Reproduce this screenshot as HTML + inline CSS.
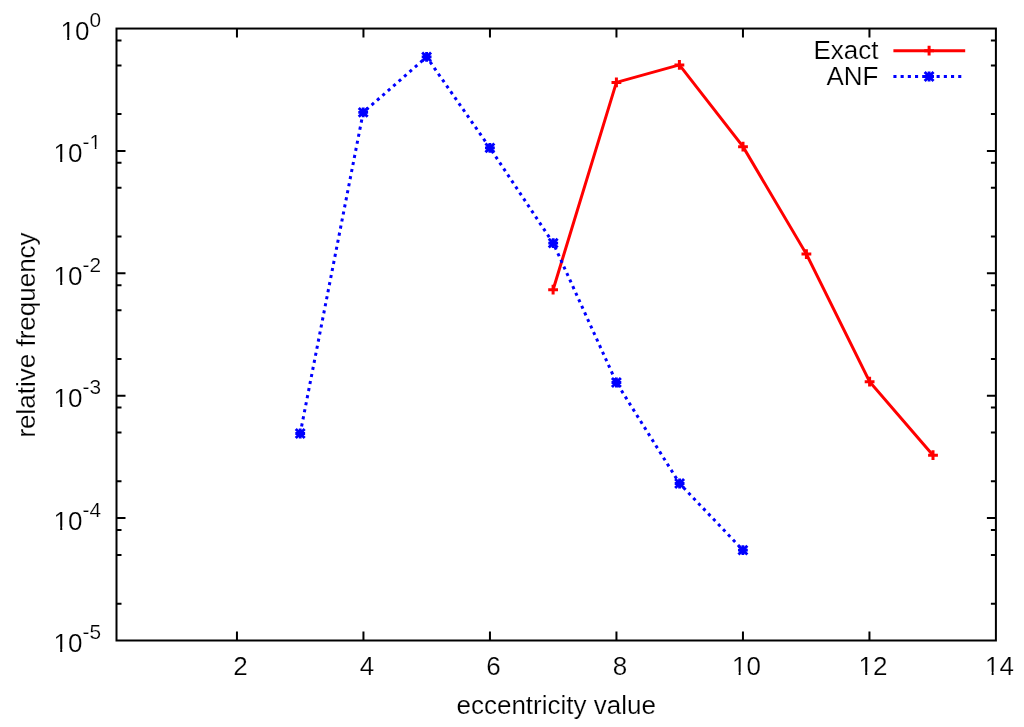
<!DOCTYPE html>
<html><head><meta charset="utf-8"><title>eccentricity distribution</title><style>html,body{margin:0;padding:0;background:#fff;overflow:hidden}svg{display:block}</style></head><body>
<svg width="1024" height="727" viewBox="0 0 1024 727">
<rect width="1024" height="727" fill="#fff"/>
<path d="M236.95 640.5V631.5M236.95 28.55V37.55M363.45 640.5V631.5M363.45 28.55V37.55M489.95 640.5V631.5M489.95 28.55V37.55M616.45 640.5V631.5M616.45 28.55V37.55M742.95 640.5V631.5M742.95 28.55V37.55M869.45 640.5V631.5M869.45 28.55V37.55M116.5 40.41H121.5M995.9 40.41H990.9M116.5 65.39H121.5M995.9 65.39H990.9M116.5 114.1H121.5M995.9 114.1H990.9M116.5 150.94H125.5M995.9 150.94H986.9M116.5 162.8H121.5M995.9 162.8H990.9M116.5 187.78H121.5M995.9 187.78H990.9M116.5 236.49H121.5M995.9 236.49H990.9M116.5 273.33H125.5M995.9 273.33H986.9M116.5 285.19H121.5M995.9 285.19H990.9M116.5 310.17H121.5M995.9 310.17H990.9M116.5 358.88H121.5M995.9 358.88H990.9M116.5 395.72H125.5M995.9 395.72H986.9M116.5 407.58H121.5M995.9 407.58H990.9M116.5 432.56H121.5M995.9 432.56H990.9M116.5 481.27H121.5M995.9 481.27H990.9M116.5 518.11H125.5M995.9 518.11H986.9M116.5 529.97H121.5M995.9 529.97H990.9M116.5 554.95H121.5M995.9 554.95H990.9M116.5 603.66H121.5M995.9 603.66H990.9" stroke="#000" stroke-width="2.0" fill="none"/>
<rect x="116.5" y="28.55" width="879.4" height="611.95" fill="none" stroke="#000" stroke-width="2.0"/>
<g font-family="'Liberation Sans', Arial, sans-serif" font-size="26" fill="#000" stroke="#fff" stroke-width="0.2">
<text x="240.55" y="674.7" text-anchor="middle">2</text>
<text x="367.05" y="674.7" text-anchor="middle">4</text>
<text x="493.55" y="674.7" text-anchor="middle">6</text>
<text x="620.05" y="674.7" text-anchor="middle">8</text>
<text x="746.55" y="674.7" text-anchor="middle">10</text>
<text x="873.05" y="674.7" text-anchor="middle">12</text>
<text x="999.55" y="674.7" text-anchor="middle">14</text>
<text x="101" y="39.95" text-anchor="end">10<tspan font-size="20.8" dy="-13.0">0</tspan></text>
<text x="101" y="162.34" text-anchor="end">10<tspan font-size="20.8" dy="-13.0">-1</tspan></text>
<text x="101" y="284.73" text-anchor="end">10<tspan font-size="20.8" dy="-13.0">-2</tspan></text>
<text x="101" y="407.12" text-anchor="end">10<tspan font-size="20.8" dy="-13.0">-3</tspan></text>
<text x="101" y="529.51" text-anchor="end">10<tspan font-size="20.8" dy="-13.0">-4</tspan></text>
<text x="101" y="651.9" text-anchor="end">10<tspan font-size="20.8" dy="-13.0">-5</tspan></text>
<text x="556.2" y="713.9" text-anchor="middle">eccentricity value</text>
<text transform="translate(35.1 335.0) rotate(-90)" text-anchor="middle">relative frequency</text>
<text x="878.5" y="58.8" text-anchor="end">Exact</text>
<text x="878.5" y="84.8" text-anchor="end">ANF</text>
</g>
<g fill="#fff"><rect x="733.07" y="671.76" width="5.58" height="4.14"/><rect x="740.61" y="671.76" width="5.67" height="4.14"/><rect x="859.57" y="671.76" width="5.64" height="4.14"/><rect x="867.25" y="671.76" width="5.53" height="4.14"/><rect x="986.07" y="671.76" width="5.58" height="4.14"/><rect x="993.61" y="671.76" width="5.67" height="4.14"/><rect x="61.49" y="37.01" width="5.72" height="4.14"/><rect x="69.25" y="37.01" width="5.45" height="4.14"/><rect x="54.57" y="159.4" width="5.65" height="4.14"/><rect x="62.26" y="159.4" width="5.52" height="4.14"/><rect x="90.02" y="146.79" width="4.79" height="3.75"/><rect x="96.41" y="146.79" width="4.57" height="3.75"/><rect x="54.57" y="281.79" width="5.65" height="4.14"/><rect x="62.26" y="281.79" width="5.52" height="4.14"/><rect x="54.57" y="404.18" width="5.65" height="4.14"/><rect x="62.26" y="404.18" width="5.52" height="4.14"/><rect x="54.57" y="526.57" width="5.65" height="4.14"/><rect x="62.26" y="526.57" width="5.52" height="4.14"/><rect x="54.57" y="648.96" width="5.65" height="4.14"/><rect x="62.26" y="648.96" width="5.52" height="4.14"/></g>
<polyline points="553.1,289.7 616.4,82.4 679.4,64.9 743,146.7 806.4,254.1 869.6,381.7 933,455.2" fill="none" stroke="#ff0000" stroke-width="3.0" stroke-linejoin="miter"/>
<path d="M893.4 50.65H965.2" stroke="#ff0000" stroke-width="3.0"/>
<path d="M548.2 289.7H558M553.1 284.8V294.6" stroke="#ff0000" stroke-width="3.0" fill="none"/>
<path d="M611.5 82.4H621.3M616.4 77.5V87.3" stroke="#ff0000" stroke-width="3.0" fill="none"/>
<path d="M674.5 64.9H684.3M679.4 60V69.8" stroke="#ff0000" stroke-width="3.0" fill="none"/>
<path d="M738.1 146.7H747.9M743 141.8V151.6" stroke="#ff0000" stroke-width="3.0" fill="none"/>
<path d="M801.5 254.1H811.3M806.4 249.2V259" stroke="#ff0000" stroke-width="3.0" fill="none"/>
<path d="M864.7 381.7H874.5M869.6 376.8V386.6" stroke="#ff0000" stroke-width="3.0" fill="none"/>
<path d="M928.1 455.2H937.9M933 450.3V460.1" stroke="#ff0000" stroke-width="3.0" fill="none"/>
<path d="M924.2 50.65H934M929.1 45.75V55.55" stroke="#ff0000" stroke-width="3.0" fill="none"/>
<polyline points="300.2,433.5 363.2,112.4 426.6,56.9 489.9,147.9 553.2,243.1 616.4,382.5 679.6,483.5 742.9,550.1" fill="none" stroke="#0000ff" stroke-width="3.0" stroke-dasharray="3.1 4.1"/>
<path d="M893.4 76.5H965.2" stroke="#0000ff" stroke-width="3.0" stroke-dasharray="3.1 4.1"/>
<path d="M295.3 433.5H305.1M300.2 428.6V438.4M295.75 429.05L304.65 437.95M295.75 437.95L304.65 429.05" stroke="#0000ff" stroke-width="2.85" fill="none"/>
<path d="M358.3 112.4H368.1M363.2 107.5V117.3M358.75 107.95L367.65 116.85M358.75 116.85L367.65 107.95" stroke="#0000ff" stroke-width="2.85" fill="none"/>
<path d="M421.7 56.9H431.5M426.6 52V61.8M422.15 52.45L431.05 61.35M422.15 61.35L431.05 52.45" stroke="#0000ff" stroke-width="2.85" fill="none"/>
<path d="M485 147.9H494.8M489.9 143V152.8M485.45 143.45L494.35 152.35M485.45 152.35L494.35 143.45" stroke="#0000ff" stroke-width="2.85" fill="none"/>
<path d="M548.3 243.1H558.1M553.2 238.2V248M548.75 238.65L557.65 247.55M548.75 247.55L557.65 238.65" stroke="#0000ff" stroke-width="2.85" fill="none"/>
<path d="M611.5 382.5H621.3M616.4 377.6V387.4M611.95 378.05L620.85 386.95M611.95 386.95L620.85 378.05" stroke="#0000ff" stroke-width="2.85" fill="none"/>
<path d="M674.7 483.5H684.5M679.6 478.6V488.4M675.15 479.05L684.05 487.95M675.15 487.95L684.05 479.05" stroke="#0000ff" stroke-width="2.85" fill="none"/>
<path d="M738 550.1H747.8M742.9 545.2V555M738.45 545.65L747.35 554.55M738.45 554.55L747.35 545.65" stroke="#0000ff" stroke-width="2.85" fill="none"/>
<path d="M924.2 76.5H934M929.1 71.6V81.4M924.65 72.05L933.55 80.95M924.65 80.95L933.55 72.05" stroke="#0000ff" stroke-width="2.85" fill="none"/>
</svg>
</body></html>
